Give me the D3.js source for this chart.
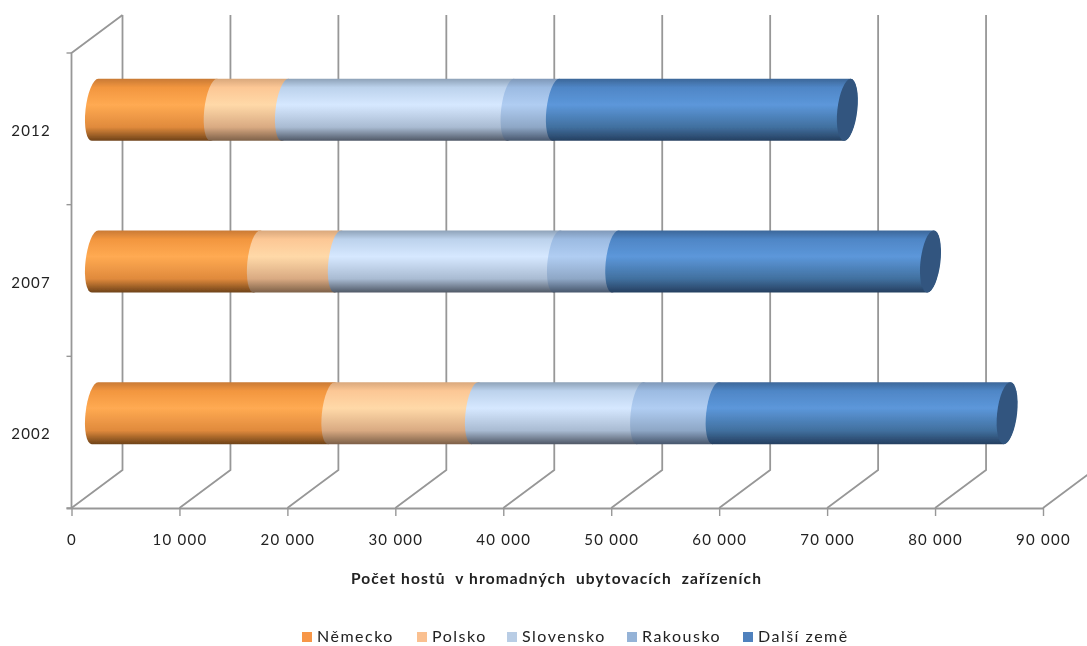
<!DOCTYPE html>
<html><head><meta charset="utf-8">
<script src="https://cdnjs.cloudflare.com/ajax/libs/d3/7.8.5/d3.min.js"></script>
<style>html,body{margin:0;background:#fff}svg{display:block}text{font-family:Lato,"Open Sans",sans-serif;fill:#222}</style>
</head><body><div id="c"></div>
<script>
const years = ["2012","2007","2002"];
const seriesNames = ["Německo","Polsko","Slovensko","Rakousko","Další země"];
const nemecko = [11000,15000,21900];
const polsko = [6600,7500,13300];
const slovensko = [20900,20300,15300];
const rakousko = [4200,5400,7000];
const dalsi = [27000,29200,27000];
const seriesValues = [nemecko,polsko,slovensko,rakousko,dalsi];
const axisMax = 90000, axisStep = 10000;
const legendColors = ["#f79646","#fac090","#b9cde5","#95b3d7","#4f81bd"];
const gradients = [
 ["#c97a35","#f2963f","#ffaa52","#e08a3c","#6e4218"],
 ["#d9a87c","#fcc795","#ffd9a8","#d9aa82","#7d6048"],
 ["#8ea2b8","#bcd2ec","#d6e8ff","#a9bbd2","#4f5866"],
 ["#7f98b8","#9cbbe2","#b0cdf2","#8ea7c6","#47566c"],
 ["#3c6799","#4f86c6","#5c97da","#41709f","#253f60"]
];
const capColor = "#30557f";
const W=1087,H=646;
const svg=d3.select("#c").append("svg").attr("width",W).attr("height",H);
const defs=svg.append("defs");
defs.append("filter").attr("id","soft").append("feGaussianBlur").attr("stdDeviation",0.5);
const stops=[0,0.14,0.42,0.78,1];
gradients.forEach((g,i)=>{
  const lg=defs.append("linearGradient").attr("id","g"+i).attr("x1",0).attr("x2",0).attr("y1",0).attr("y2",1);
  g.forEach((c,j)=>lg.append("stop").attr("offset",stops[j]).attr("stop-color",c));
});
const root=svg.append("g").attr("filter","url(#soft)");
const x=d3.scaleLinear().domain([0,axisMax]).range([71.5,1043]);
const y=d3.scaleBand().domain(years).range([53,508]);
const depthX=51, depthY=-38, floorY=y.range()[1], topY=y.range()[0];
const ticks=d3.range(0,axisMax+1,axisStep);
const grid="#979797";
const gg=root.append("g").attr("fill","none").attr("stroke",grid).attr("stroke-width",1.8);
ticks.forEach(t=>{
  const px=x(t);
  gg.append("path").attr("d",`M${px},${floorY}L${px+depthX},${floorY+depthY}V${topY+depthY}`);
});
gg.append("path").attr("d",`M${x(0)},${floorY}V${topY}L${x(0)+depthX},${topY+depthY}`);
// axes
const fmt=d3.formatLocale({thousands:"\u00a0",grouping:[3],decimal:",",currency:["",""]}).format(",d");
const ax=root.append("g").attr("transform",`translate(0,${floorY})`)
  .call(d3.axisBottom(x).tickValues(ticks).tickFormat(fmt).tickSize(8).tickPadding(18));
ax.select(".domain").attr("stroke",grid).attr("stroke-width",1.8).attr("d",`M${x(0)-5},0.5H${x(axisMax)}`);
ax.selectAll("line").attr("stroke",grid).attr("stroke-width",1.4);
ax.selectAll("text").style("font-size","15px").style("letter-spacing","1.25px").attr("fill","#222");
const ay=root.append("g").attr("transform",`translate(${x(0)},0)`);
[...years.map(d=>y(d)),floorY].forEach(v=>ay.append("line").attr("x1",-5).attr("x2",0).attr("y1",v).attr("y2",v).attr("stroke",grid).attr("stroke-width",1.4));
years.forEach(d=>root.append("text").attr("x",51).attr("y",y(d)+y.bandwidth()/2+7).attr("text-anchor","end").style("font-size","15px").style("letter-spacing","1.25px").text(d));
// bars
const barH=62, rx=9.5, skew=-6;
const barG=root.append("g");
years.forEach((yr,yi)=>{
  const cy=y(yr)+y.bandwidth()/2+depthY/2;
  const g=barG.append("g").attr("transform",`translate(${depthX/2-2},${cy}) skewX(${skew})`);
  let cum=0;
  seriesValues.forEach((s,si)=>{
    const a=x(cum), b=x(cum+s[yi]); cum+=s[yi];
    const last=si===seriesValues.length-1;
    g.append("path")
     .attr("d",`M${a},${-barH/2}A${rx},${barH/2} 0 0 0 ${a},${barH/2}H${b}A${rx},${barH/2} 0 0 0 ${b},${-barH/2}Z`)
     .attr("fill",`url(#g${si})`);
    if(last) g.append("ellipse").attr("cx",b).attr("cy",0).attr("rx",rx+0.5).attr("ry",barH/2).attr("fill",capColor);
  });
});
// title
root.append("text").attr("x",556.5).attr("y",584).attr("text-anchor","middle").style("font-size","15.5px").style("font-weight","700").style("letter-spacing","1.15px").style("white-space","pre").text("Počet hostů  v hromadných  ubytovacích  zařízeních");
// legend
const legX=d3.scaleOrdinal().domain(seriesNames).range([302,417,507,627,743]);
seriesNames.forEach((n,i)=>{
  root.append("rect").attr("x",legX(n)).attr("y",632).attr("width",10).attr("height",10).attr("fill",legendColors[i]);
  root.append("text").attr("x",legX(n)+15).attr("y",642).style("font-size","16px").style("letter-spacing","1.5px").attr("fill","#333").text(n);
});
</script></body></html>
